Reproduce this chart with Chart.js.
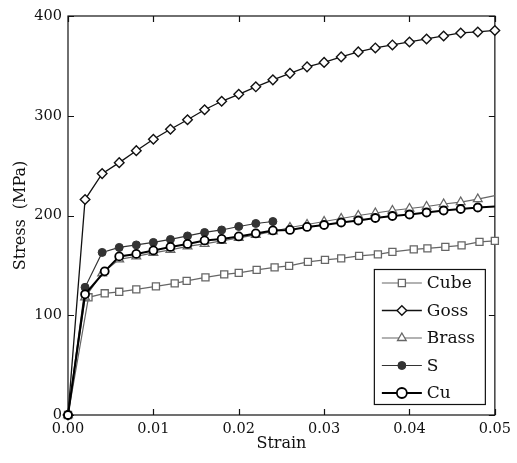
<!DOCTYPE html>
<html>
<head>
<meta charset="utf-8">
<script src="https://cdn.jsdelivr.net/npm/chart.js@4/dist/chart.umd.min.js"></script>
<style>
  body { margin: 0; background: #fff; }
  canvas { display: block; }
</style>
</head>
<body>
<canvas id="stressChart" width="517" height="463"></canvas>
<script>
// strain values (x) shared by most curves
let strainGrid = [0, 0.002, 0.004, 0.006, 0.008, 0.010, 0.012, 0.014, 0.016, 0.018, 0.020, 0.022, 0.024,
  0.026, 0.028, 0.030, 0.032, 0.034, 0.036, 0.038, 0.040, 0.042, 0.044, 0.046, 0.048, 0.050];

let cubeStrain = [0, 0.0024, 0.0043, 0.0060, 0.0080, 0.0103, 0.0125, 0.0139, 0.0161, 0.0183, 0.0200, 0.0221, 0.0242,
  0.0259, 0.0281, 0.0301, 0.0320, 0.0341, 0.0363, 0.0380, 0.0405, 0.0421, 0.0442, 0.0461, 0.0482, 0.0500];
let cubeStress = [0, 118, 122, 123.5, 126, 129, 132, 134.5, 138, 141, 142.5, 145.5, 148,
  149.5, 153.5, 155.5, 157, 159.5, 161, 163.5, 166, 167, 168.5, 170, 173.5, 174.5];

let gossStress = [0, 216, 242, 253, 265, 276.5, 286.5, 296, 306, 314.5, 321.5, 329, 336,
  342.5, 349, 353.5, 359, 364, 368, 371, 374, 377, 380, 383, 384, 385.5];

let brassStress = [0, 118, 142, 156, 159, 162.5, 165.5, 169, 171.5, 174.5, 177.5, 180.5, 184,
  188, 191, 194, 197, 200, 202.5, 205, 207, 209, 211.5, 213.5, 216.5, 220];

let sStrain = [0, 0.002, 0.004, 0.006, 0.008, 0.010, 0.012, 0.014, 0.016, 0.018, 0.020, 0.022, 0.024];
let sStress = [0, 128, 163, 168, 170.5, 173, 176, 179.5, 183, 185.5, 189, 192, 194];

let cuStrain = [0, 0.002, 0.0043, 0.006, 0.008, 0.010, 0.012, 0.014, 0.016, 0.018, 0.020, 0.022, 0.024,
  0.026, 0.028, 0.030, 0.032, 0.034, 0.036, 0.038, 0.040, 0.042, 0.044, 0.046, 0.048, 0.050];
let cuStress = [0, 121, 144, 159, 161.5, 165, 168.5, 171.5, 175, 176.5, 179, 182, 185,
  185.5, 188.5, 190.5, 193, 195, 197.5, 199.5, 201, 203, 205, 206.5, 208, 209];

let xTicks = [0, 0.01, 0.02, 0.03, 0.04, 0.05];
let yTicks = [0, 100, 200, 300, 400];

const FONT = "'DejaVu Serif', 'Liberation Serif', serif";

function toPoints(xs, ys) {
  return ys.map((y, i) => ({ x: xs[i], y: y }));
}

// no marker on the last point of the curves that run off the edge
function noLastMarker(r, n) {
  return (ctx) => (ctx.dataIndex === n - 1 ? 0 : r);
}

let chart_Data = {
  datasets: [
    {
      label: "Cube",
      data: toPoints(cubeStrain, cubeStress),
      showLine: true,
      borderColor: "#666",
      backgroundColor: "#fff",
      borderWidth: 1.2,
      pointStyle: "rect",
      pointRadius: 5,
      pointBorderWidth: 1.3,
      clip: false,
      order: 4,
    },
    {
      label: "Goss",
      data: toPoints(strainGrid, gossStress),
      showLine: true,
      borderColor: "#111",
      backgroundColor: "#fff",
      borderWidth: 1.3,
      pointStyle: "rectRot",
      pointRadius: 4.8,
      pointBorderWidth: 1.4,
      clip: false,
      order: 3,
    },
    {
      label: "Brass",
      data: toPoints(strainGrid, brassStress),
      showLine: true,
      borderColor: "#666",
      backgroundColor: "#fff",
      borderWidth: 1.2,
      pointStyle: "triangle",
      pointRadius: noLastMarker(5, brassStress.length),
      pointBorderWidth: 1.3,
      clip: false,
      order: 2,
    },
    {
      label: "S",
      data: toPoints(sStrain, sStress),
      showLine: true,
      borderColor: "#333",
      backgroundColor: "#333",
      borderWidth: 1.2,
      pointStyle: "circle",
      pointRadius: 4,
      pointBorderWidth: 1,
      clip: false,
      order: 1,
    },
    {
      label: "Cu",
      data: toPoints(cuStrain, cuStress),
      showLine: true,
      borderColor: "#000",
      backgroundColor: "#fff",
      borderWidth: 2,
      pointStyle: "circle",
      pointRadius: noLastMarker(4, cuStress.length),
      pointBorderWidth: 1.8,
      clip: false,
      order: 0,
    },
  ],
};

// box around the plot, inward ticks on all four sides, and the framed legend
const framePlugin = {
  id: "frame",
  beforeDatasetsDraw(chart) {
    const ctx = chart.ctx;
    const a = chart.chartArea;
    const xs = chart.scales.x;
    const ys = chart.scales.y;
    const tl = 6;
    ctx.save();
    ctx.strokeStyle = "#111";
    ctx.lineWidth = 1.2;
    ctx.strokeRect(a.left, a.top, a.right - a.left, a.bottom - a.top);
    ctx.beginPath();
    xTicks.forEach((v) => {
      const px = Math.round(xs.getPixelForValue(v)) + 0.5;
      ctx.moveTo(px, a.bottom); ctx.lineTo(px, a.bottom - tl);
      ctx.moveTo(px, a.top); ctx.lineTo(px, a.top + tl);
    });
    yTicks.forEach((v) => {
      const py = Math.round(ys.getPixelForValue(v)) + 0.5;
      ctx.moveTo(a.left, py); ctx.lineTo(a.left + tl, py);
      ctx.moveTo(a.right, py); ctx.lineTo(a.right - tl, py);
    });
    ctx.stroke();
    ctx.restore();
  },
  afterDatasetsDraw(chart) {
    const ctx = chart.ctx;
    const a = chart.chartArea;
    ctx.save();
    // legend
    const w = 111, h = 135;
    const bx = a.right - 10 - w, by = a.bottom - 11 - h;
    ctx.fillStyle = "#fff";
    ctx.fillRect(bx, by, w, h);
    ctx.lineWidth = 1.2;
    ctx.strokeStyle = "#111";
    ctx.strokeRect(bx + 0.5, by + 0.5, w, h);
    ctx.font = "17px " + FONT;
    ctx.textBaseline = "middle";
    chart.data.datasets.forEach((ds, i) => {
      const cy = by + 14 + i * 27.5;
      ctx.strokeStyle = ds.borderColor;
      ctx.lineWidth = ds.borderWidth;
      ctx.beginPath();
      ctx.moveTo(bx + 8, cy); ctx.lineTo(bx + 48, cy);
      ctx.stroke();
      ctx.fillStyle = ds.backgroundColor;
      ctx.lineWidth = ds.pointBorderWidth;
      const r = typeof ds.pointRadius === "number" ? ds.pointRadius : 5;
      Chart.helpers.drawPoint(ctx, { pointStyle: ds.pointStyle, radius: r, rotation: 0, borderWidth: ds.pointBorderWidth }, bx + 28, cy);
      ctx.fillStyle = "#111";
      ctx.fillText(ds.label, bx + 53, cy + 1);
    });
    ctx.restore();
  },
};

let options = {
  responsive: false,
  animation: false,
  layout: { padding: { top: 16, right: 19, left: 0, bottom: 0 } },
  plugins: { legend: { display: false }, tooltip: { enabled: false } },
  scales: {
    x: {
      type: "linear",
      min: 0,
      max: 0.05,
      afterFit: (s) => { s.height = 48; },
      afterBuildTicks: (s) => { s.ticks = xTicks.map((v) => ({ value: v })); },
      grid: { display: false, drawTicks: false },
      border: { display: false },
      ticks: {
        callback: (v) => v.toFixed(2),
        font: { family: FONT, size: 14.5 },
        color: "#111",
        padding: 6,
        maxRotation: 0,
      },
      title: {
        display: true,
        text: "Strain",
        font: { family: FONT, size: 16 },
        color: "#111",
        padding: { top: 0, bottom: 10 },
      },
    },
    y: {
      type: "linear",
      min: 0,
      max: 400,
      afterFit: (s) => { s.width = 68; },
      afterBuildTicks: (s) => { s.ticks = yTicks.map((v) => ({ value: v })); },
      grid: { display: false, drawTicks: false },
      border: { display: false },
      ticks: {
        font: { family: FONT, size: 14.5 },
        color: "#111",
        padding: 6,
      },
      title: {
        display: true,
        text: "Stress  (MPa)",
        font: { family: FONT, size: 16 },
        color: "#111",
        padding: { top: 11, bottom: 0 },
      },
    },
  },
};

var ctx = document.getElementById("stressChart").getContext("2d");
var myChart = new Chart(ctx, {
  type: "scatter",
  data: chart_Data,
  options: options,
  plugins: [framePlugin],
});
</script>
</body>
</html>
